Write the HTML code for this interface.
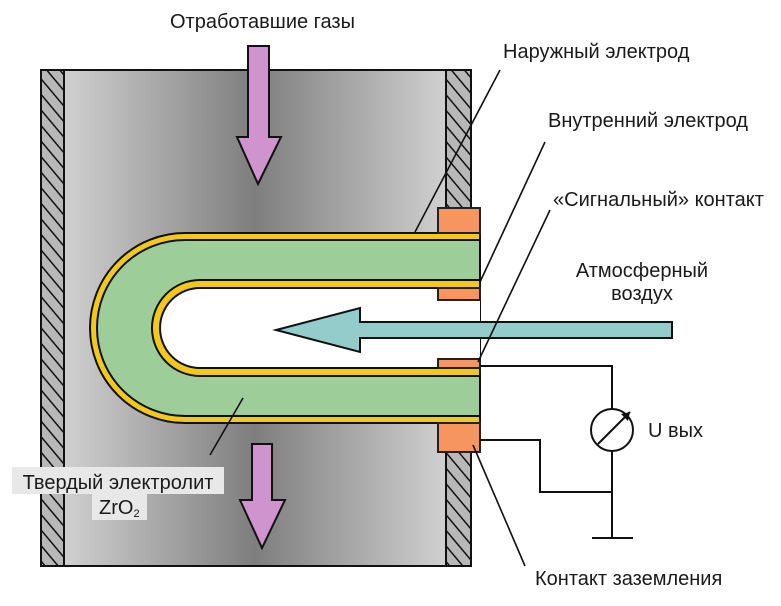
<!DOCTYPE html>
<html><head><meta charset="utf-8"><style>
html,body{margin:0;padding:0;background:#fff;width:781px;height:606px;overflow:hidden}
svg text{font-family:"Liberation Sans",sans-serif;font-size:20px;fill:#1a1a1a}
</style></head><body>
<svg width="781" height="606" viewBox="0 0 781 606" xmlns="http://www.w3.org/2000/svg">
<defs>
<linearGradient id="g" x1="0" x2="1" y1="0" y2="0">
<stop offset="0" stop-color="#d0d0d0"/><stop offset="0.5" stop-color="#7e7e7e"/><stop offset="1" stop-color="#d0d0d0"/>
</linearGradient>
<pattern id="h" width="10" height="10" patternUnits="userSpaceOnUse" patternTransform="rotate(-40)">
<rect width="10" height="10" fill="#b8b8b8"/><line x1="0" y1="0" x2="0" y2="10" stroke="#111" stroke-width="3"/>
</pattern>
</defs>
<rect x="64" y="70" width="382" height="496" fill="url(#g)"/>
<line x1="41" y1="70" x2="471" y2="70" stroke="#111" stroke-width="2"/>
<line x1="41" y1="566" x2="471" y2="566" stroke="#111" stroke-width="2"/>
<rect x="41" y="70" width="23" height="496" fill="url(#h)" stroke="#111" stroke-width="2"/>
<rect x="446" y="70" width="25" height="496" fill="url(#h)" stroke="#111" stroke-width="2"/>
<!-- tube -->
<path d="M480 233 H185 A95 95 0 0 0 185 423 H480 Z" fill="#f3c81c" stroke="#111" stroke-width="2"/>
<path d="M480 240 H185 A88 88 0 0 0 185 416 H480 Z" fill="#9dcd98" stroke="#111" stroke-width="2"/>
<path d="M480 280 H200 A48 48 0 0 0 200 376 H480 Z" fill="#f3c81c" stroke="#111" stroke-width="2"/>
<path d="M480 288 H200 A40 40 0 0 0 200 368 H480" fill="#fff" stroke="#111" stroke-width="2"/>
<line x1="480" y1="233" x2="480" y2="280" stroke="#111" stroke-width="2"/>
<line x1="480" y1="376" x2="480" y2="423" stroke="#111" stroke-width="2"/>
<!-- orange contacts -->
<g fill="#f79560" stroke="#222" stroke-width="2">
<rect x="438" y="208" width="42" height="25"/>
<rect x="438" y="288" width="42" height="12"/>
<rect x="438" y="359" width="42" height="9"/>
<rect x="438" y="423" width="42" height="29"/>
</g>
<!-- blue arrow -->
<path d="M672 322 H360 V308 L276 330 L360 352 V338 H672 Z" fill="#94cccb" stroke="#111" stroke-width="2"/>
<!-- purple arrows -->
<path d="M248 46 H269 V137 H281 L258 184 L237 137 H248 Z" fill="#cf93cd" stroke="#111" stroke-width="2"/>
<path d="M252 444 H272 V500 H285 L262 548 L240 500 H252 Z" fill="#cf93cd" stroke="#111" stroke-width="2"/>
<!-- circuit -->
<g stroke="#111" stroke-width="2" fill="none">
<polyline points="480,366 612,366 612,409"/>
<circle cx="612" cy="430" r="21" fill="#fff"/>
<line x1="598" y1="444" x2="630" y2="412"/>
<polyline points="612,451 612,538"/>
<polyline points="480,440 540,440 540,492 612,492"/>
<line x1="592" y1="538" x2="633" y2="538"/>
</g>
<path d="M630 412 l-9 2 l7 7 Z" fill="#111"/>
<g stroke="#111" stroke-width="1.6">
<line x1="500" y1="70" x2="415" y2="232"/>
<line x1="545" y1="142" x2="480" y2="282"/>
<line x1="550" y1="210" x2="478" y2="362"/>
<line x1="525" y1="566" x2="473" y2="445"/>
<line x1="210" y1="455" x2="243" y2="398"/>
</g>
<rect x="12" y="467" width="212" height="27" fill="#e8e8e8"/>
<rect x="92" y="494" width="55" height="26" fill="#e8e8e8"/>
<text x="170" y="28">Отработавшие газы</text>
<text x="503" y="58">Наружный электрод</text>
<text x="548" y="127">Внутренний электрод</text>
<text x="553" y="206">«Сигнальный» контакт</text>
<text x="642" y="277" text-anchor="middle">Атмосферный</text>
<text x="642" y="300" text-anchor="middle">воздух</text>
<text x="648" y="437">U вых</text>
<text x="535" y="585">Контакт заземления</text>
<text x="118" y="489" text-anchor="middle">Твердый электролит</text>
<text x="99" y="514">ZrO<tspan font-size="11" dy="3">2</tspan></text>
</svg>
</body></html>
